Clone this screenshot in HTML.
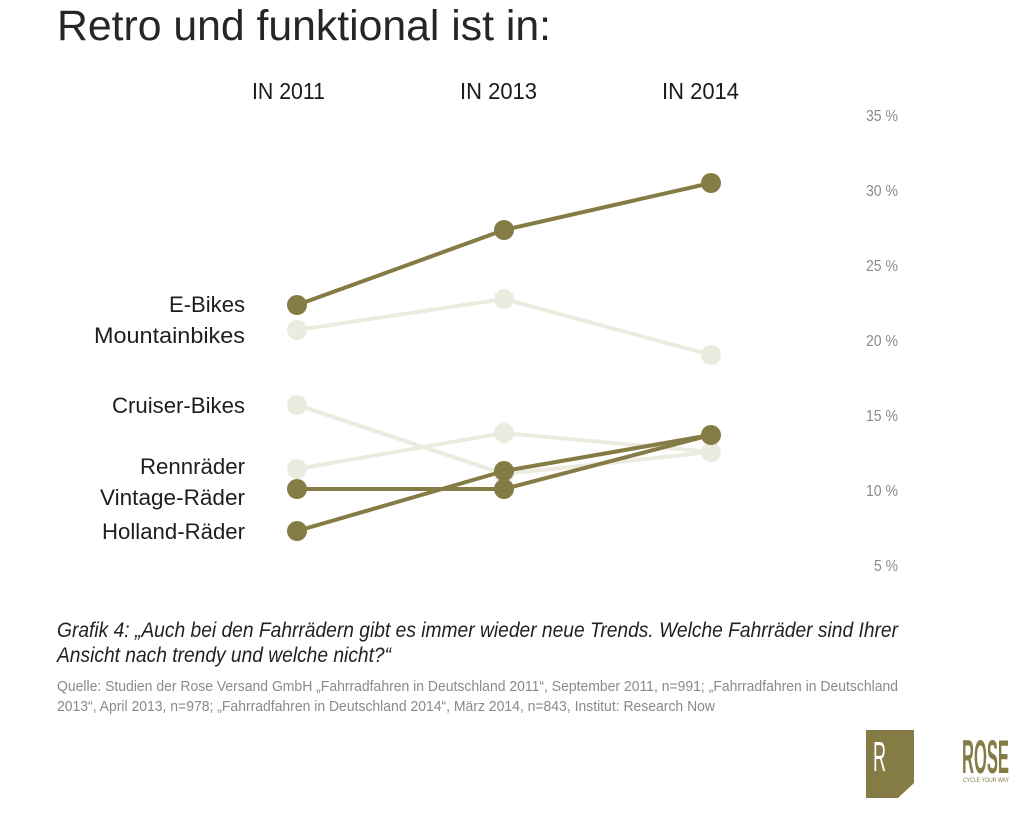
<!DOCTYPE html>
<html><head><meta charset="utf-8"><style>
html,body{margin:0;padding:0;background:#fff;}
svg{display:block;}
text{font-family:"Liberation Sans",sans-serif;}
</style></head><body>
<svg width="1024" height="814" viewBox="0 0 1024 814" xmlns="http://www.w3.org/2000/svg">
<rect width="1024" height="814" fill="#fff"/>
<text x="57" y="40" font-size="43" fill="#262626" textLength="494" lengthAdjust="spacingAndGlyphs">Retro und funktional ist in:</text>

<text x="252" y="99" font-size="23" fill="#1a1a1a" textLength="73" lengthAdjust="spacingAndGlyphs">IN 2011</text>
<text x="460" y="99" font-size="23" fill="#1a1a1a" textLength="77" lengthAdjust="spacingAndGlyphs">IN 2013</text>
<text x="662" y="99" font-size="23" fill="#1a1a1a" textLength="77" lengthAdjust="spacingAndGlyphs">IN 2014</text>

<g font-size="16" fill="#8a8a8a" lengthAdjust="spacingAndGlyphs">
<text x="866" y="121" textLength="32" lengthAdjust="spacingAndGlyphs">35 %</text>
<text x="866" y="196" textLength="32" lengthAdjust="spacingAndGlyphs">30 %</text>
<text x="866" y="271" textLength="32" lengthAdjust="spacingAndGlyphs">25 %</text>
<text x="866" y="346" textLength="32" lengthAdjust="spacingAndGlyphs">20 %</text>
<text x="866" y="421" textLength="32" lengthAdjust="spacingAndGlyphs">15 %</text>
<text x="866" y="496" textLength="32" lengthAdjust="spacingAndGlyphs">10 %</text>
<text x="874" y="571" textLength="24" lengthAdjust="spacingAndGlyphs">5 %</text>
</g>

<g font-size="22" fill="#1e1e1e">
<text x="169" y="312" textLength="76" lengthAdjust="spacingAndGlyphs">E-Bikes</text>
<text x="94" y="343" textLength="151" lengthAdjust="spacingAndGlyphs">Mountainbikes</text>
<text x="112" y="413" textLength="133" lengthAdjust="spacingAndGlyphs">Cruiser-Bikes</text>
<text x="140" y="474" textLength="105" lengthAdjust="spacingAndGlyphs">Rennräder</text>
<text x="100" y="505" textLength="145" lengthAdjust="spacingAndGlyphs">Vintage-Räder</text>
<text x="102" y="539" textLength="143" lengthAdjust="spacingAndGlyphs">Holland-Räder</text>
</g>

<g stroke="#ecebdf" stroke-width="4" fill="none" stroke-linejoin="round">
<polyline points="297,330 504,299 711,355"/>
<polyline points="297,405 504,474 711,452"/>
<polyline points="297,469 504,433 711,452"/>
</g>
<g fill="#ecebdf">
<circle cx="297" cy="330" r="10"/><circle cx="504" cy="299" r="10"/><circle cx="711" cy="355" r="10"/>
<circle cx="297" cy="405" r="10"/><circle cx="504" cy="474" r="10"/><circle cx="711" cy="452" r="10"/>
<circle cx="297" cy="469" r="10"/><circle cx="504" cy="433" r="10"/>
</g>

<g stroke="#857c45" stroke-width="4" fill="none" stroke-linejoin="round">
<polyline points="297,305 504,230 711,183"/>
<polyline points="297,489 504,489 711,435"/>
<polyline points="297,531 504,471 711,435"/>
</g>
<g fill="#857c45">
<circle cx="297" cy="305" r="10"/><circle cx="504" cy="230" r="10"/><circle cx="711" cy="183" r="10"/>
<circle cx="297" cy="489" r="10"/><circle cx="504" cy="489" r="10"/><circle cx="711" cy="435" r="10"/>
<circle cx="297" cy="531" r="10"/><circle cx="504" cy="471" r="10"/>
</g>

<g font-size="21" fill="#222" font-style="italic">
<text x="57" y="637" textLength="841" lengthAdjust="spacingAndGlyphs">Grafik 4: „Auch bei den Fahrrädern gibt es immer wieder neue Trends. Welche Fahrräder sind Ihrer</text>
<text x="57" y="662" textLength="334" lengthAdjust="spacingAndGlyphs">Ansicht nach trendy und welche nicht?“</text>
</g>
<g font-size="15" fill="#8a8a8a">
<text x="57" y="691" textLength="841" lengthAdjust="spacingAndGlyphs">Quelle: Studien der Rose Versand GmbH „Fahrradfahren in Deutschland 2011“, September 2011, n=991; „Fahrradfahren in Deutschland</text>
<text x="57" y="711" textLength="658" lengthAdjust="spacingAndGlyphs">2013“, April 2013, n=978;  „Fahrradfahren in Deutschland 2014“, März 2014, n=843, Institut: Research Now</text>
</g>

<polygon points="866,730 914,730 914,783 898,798 866,798" fill="#857c45"/>
<text x="873" y="771" font-size="42" fill="#fff" textLength="13" lengthAdjust="spacingAndGlyphs">R</text>
<text x="962" y="773" font-size="47" font-weight="bold" fill="#857c45" textLength="47" lengthAdjust="spacingAndGlyphs">ROSE</text>
<text x="963" y="782" font-size="6" fill="#857c45" textLength="46" lengthAdjust="spacingAndGlyphs">CYCLE YOUR WAY</text>
</svg>
</body></html>
